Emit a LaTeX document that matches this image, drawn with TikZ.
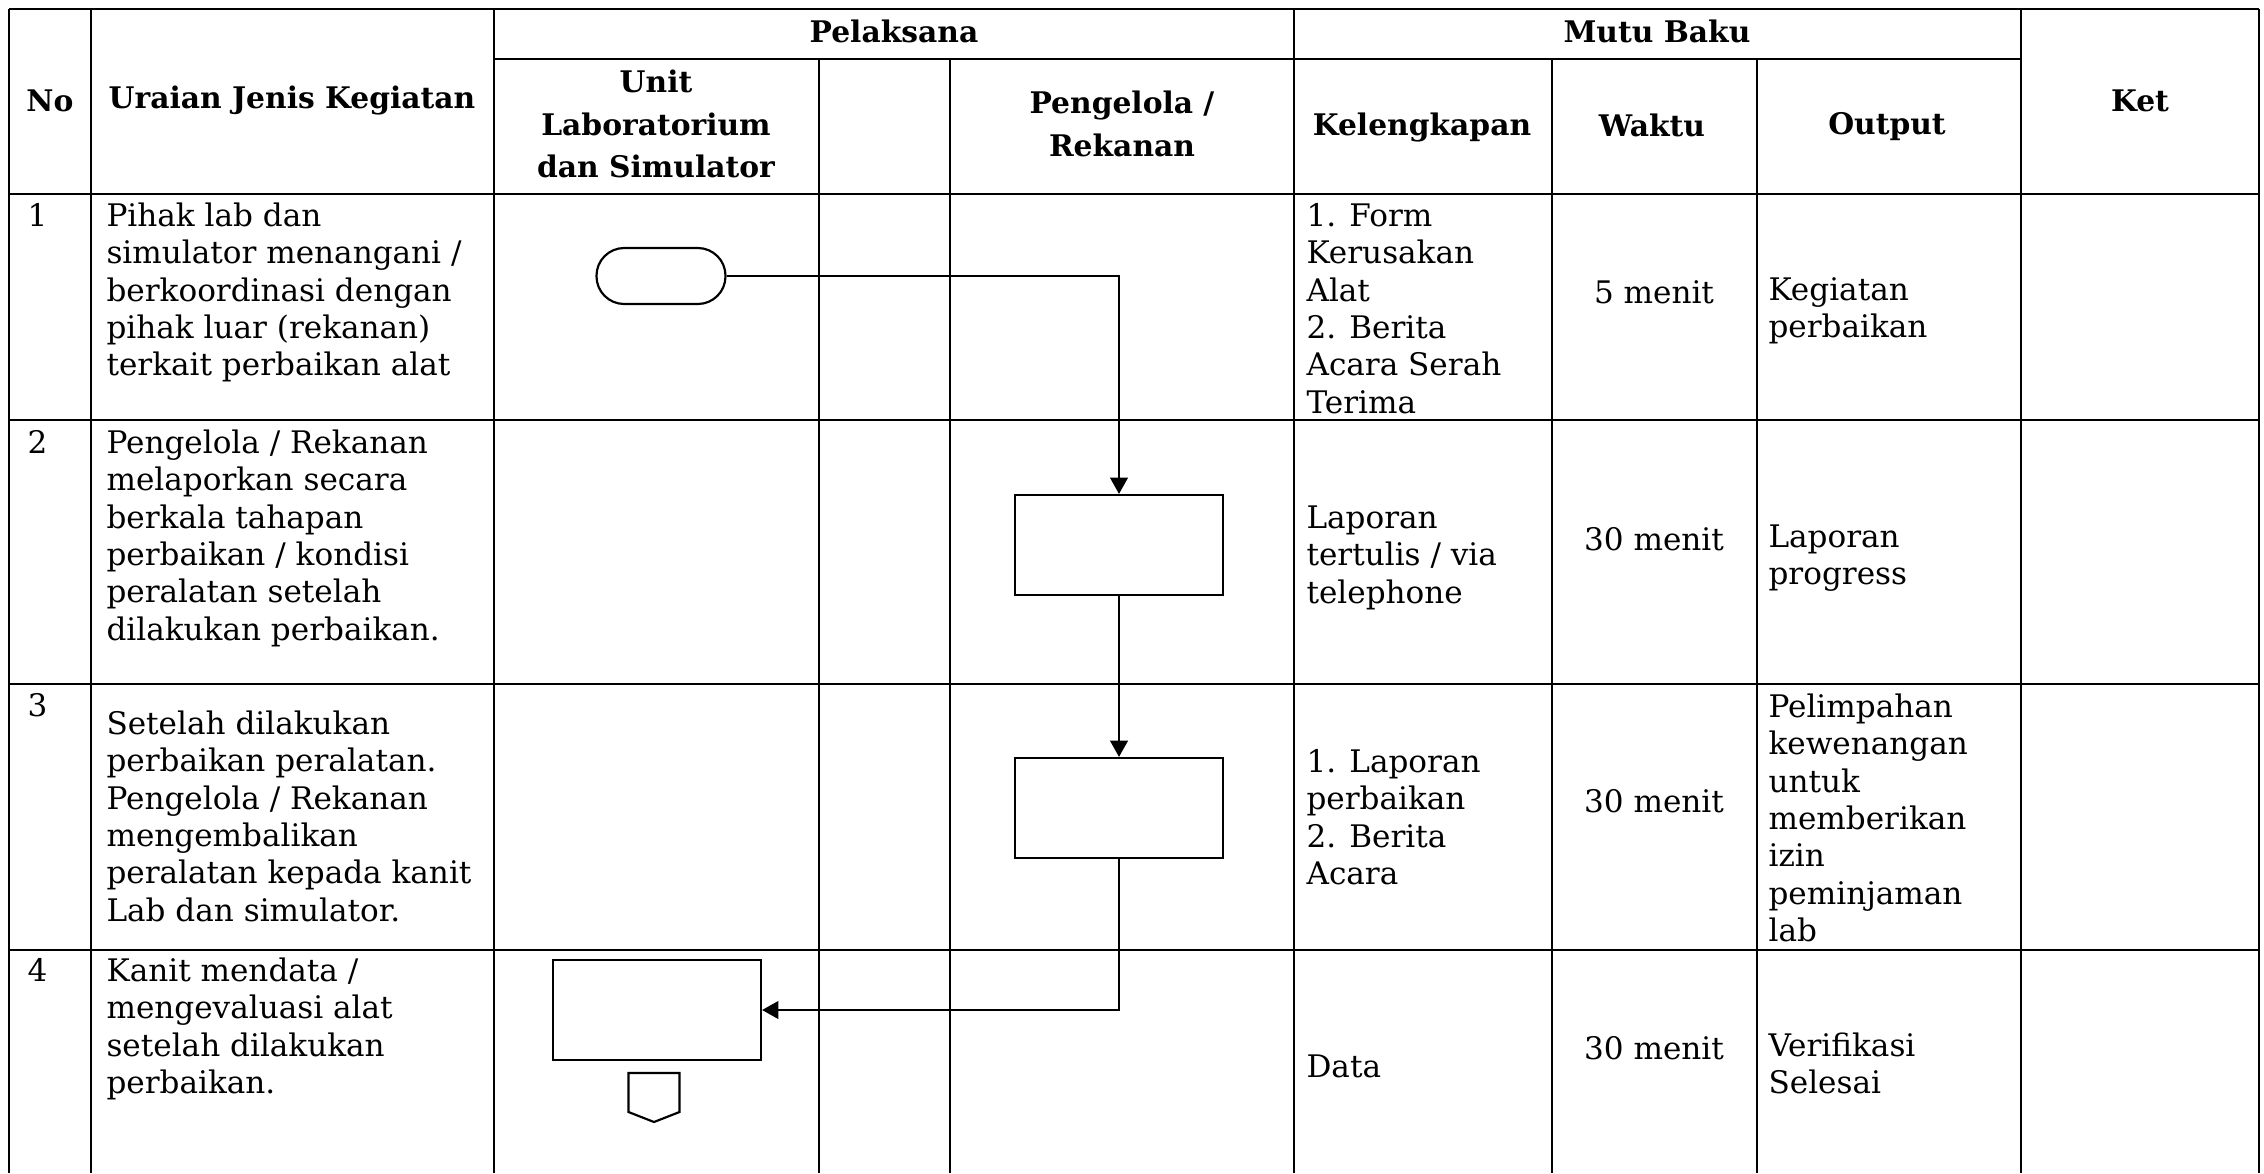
\documentclass[tikz,border=0pt]{standalone}
\usepackage{fontspec}
\setmainfont{DejaVu Serif}
\usetikzlibrary{arrows.meta}
\begin{document}
\begin{tikzpicture}[x=0.013cm,y=-0.013cm,
  grid/.style={line width=0.7pt},
  head/.style={font=\fontsize{11}{15.7}\selectfont\bfseries,align=center,inner sep=0pt},
  cell/.style={font=\fontsize{11.5}{13.8}\selectfont,align=left,anchor=north west,inner sep=0pt},
  mid/.style={font=\fontsize{11.5}{13.8}\selectfont,inner sep=0pt},
  proc/.style={draw,line width=0.8pt,minimum width=2.704cm,minimum height=1.3cm,inner sep=0pt},
  term/.style={draw,line width=0.8pt,rounded corners=0.36cm,minimum width=1.677cm,minimum height=0.728cm,inner sep=0pt},
  flow/.style={line width=0.8pt,-{Triangle[length=6pt,width=6.5pt]}}]
  \useasboundingbox (0,0) rectangle (2264,1173);
  % table lines
  \foreach \y in {9,194,420,684,950}
    \draw[grid] (9,\y) -- (2259,\y);
  \draw[grid] (494,59) -- (2021,59);
  \foreach \x in {9,91,494,1294,2021,2259}
    \draw[grid] (\x,9) -- (\x,1173);
  \foreach \x in {819,950,1552,1757}
    \draw[grid] (\x,59) -- (\x,1173);
  % header
  \node[head] (hno) at (50,101) {No};
  \node[head] (hur) at (292,101) {Uraian Jenis Kegiatan};
  \node[head] (hpel) at (894,31) {Pelaksana};
  \node[head] (hunit) at (656,124) {Unit\\Laboratorium\\dan Simulator};
  \node[head] (hpen) at (1122,124) {Pengelola /\\Rekanan};
  \node[head] (hmutu) at (1657,31) {Mutu Baku};
  \node[head] (hkel) at (1422,127) {Kelengkapan};
  \node[head] (hwkt) at (1652,125) {Waktu};
  \node[head] (hout) at (1887,127) {Output};
  \node[head] (hket) at (2140,101) {Ket};
  % row 1
  \node[cell] (no1) at (27,200) {\strut 1};
  \node[cell] (ur1) at (106,200) {\strut Pihak lab dan\\simulator menangani /\\berkoordinasi dengan\\pihak luar (rekanan)\\terkait perbaikan alat};
  \node[cell] (kl1) at (1306,200) {\strut 1. Form\\Kerusakan\\Alat\\2. Berita\\Acara Serah\\Terima};
  \node[mid] (wk1) at (1654,292) {5 menit};
  \node[cell] (op1) at (1768,274) {\strut Kegiatan\\perbaikan};
  % row 2
  \node[cell] (no2) at (27,427) {\strut 2};
  \node[cell] (ur2) at (106,427) {\strut Pengelola / Rekanan\\melaporkan secara\\berkala tahapan\\perbaikan / kondisi\\peralatan setelah\\dilakukan perbaikan.};
  \node[cell] (kl2) at (1306,502) {\strut Laporan\\tertulis / via\\telephone};
  \node[mid] (wk2) at (1654,539) {30 menit};
  \node[cell] (op2) at (1768,521) {\strut Laporan\\progress};
  % row 3
  \node[cell] (no3) at (27,690) {\strut 3};
  \node[cell] (ur3) at (106,708) {\strut Setelah dilakukan\\perbaikan peralatan.\\Pengelola / Rekanan\\mengembalikan\\peralatan kepada kanit\\Lab dan simulator.};
  \node[cell] (kl3) at (1306,746) {\strut 1. Laporan\\perbaikan\\2. Berita\\Acara};
  \node[mid] (wk3) at (1654,801) {30 menit};
  \node[cell] (op3) at (1768,691) {\strut Pelimpahan\\kewenangan\\untuk\\memberikan\\izin\\peminjaman\\lab};
  % row 4
  \node[cell] (no4) at (27,955) {\strut 4};
  \node[cell] (ur4) at (106,955) {\strut Kanit mendata /\\mengevaluasi alat\\setelah dilakukan\\perbaikan.};
  \node[mid,anchor=west] (kl4) at (1306,1066) {Data};
  \node[mid] (wk4) at (1654,1048) {30 menit};
  \node[cell] (op4) at (1768,1030) {\strut Verifikasi\\Selesai};
  % flow
  \node[term] (start) at (661,276) {};
  \node[proc] (box1) at (1119,545) {};
  \node[proc] (box2) at (1119,808) {};
  \node[proc] (box3) at (657,1010) {};
  \coordinate (offp) at (654,1073);
  \draw[line width=0.8pt] (offp) ++(-25.5,0) -- ++(51,0) -- ++(0,39) -- ++(-25.5,10) -- ++(-25.5,-10) -- cycle;
  \draw[flow] (start.east) -| (box1.north);
  \draw[flow] (box1.south) -- (box2.north);
  \draw[flow] (box2.south) |- (box3.east);
\end{tikzpicture}
\end{document}
